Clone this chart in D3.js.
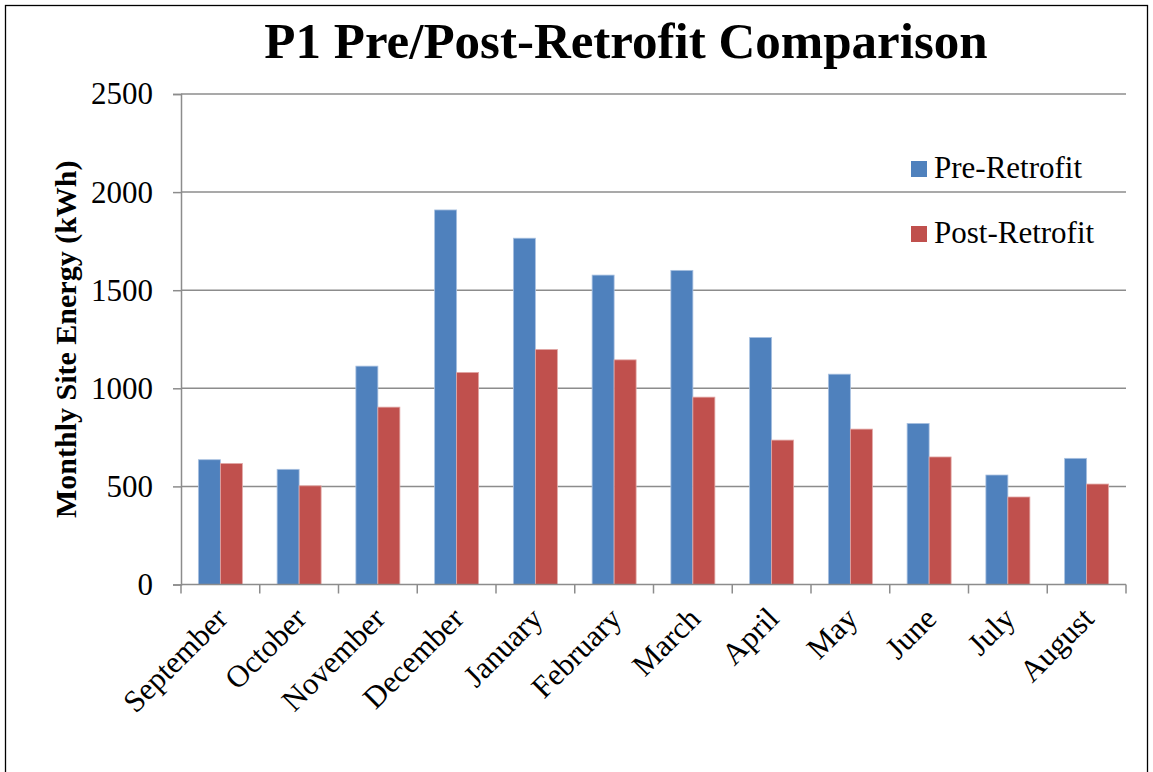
<!DOCTYPE html>
<html lang="en">
<head>
<meta charset="UTF-8">
<title>P1 Pre/Post-Retrofit Comparison</title>
<script src="https://d3js.org/d3.v7.min.js"></script>
<style>
  body { margin: 0; background: #fff; }
  text { font-family: "Liberation Serif", "DejaVu Serif", serif; }
</style>
</head>
<body>
<div id="chart"></div>
<script>
// months and values
const months = ["September", "October", "November", "December", "January", "February",
                "March", "April", "May", "June", "July", "August"];
const preRetrofit  = [636, 587, 1113, 1909, 1765, 1577, 1601, 1259, 1072, 821, 558, 643];
const postRetrofit = [617, 503, 904, 1081, 1198, 1145, 955, 736, 792, 650, 446, 512];
const seriesNames = ["Pre-Retrofit", "Post-Retrofit"];
const seriesColors = ["#4F81BD", "#C0504D"];
const yTicks = [0, 500, 1000, 1500, 2000, 2500];

const W = 1153, H = 772;
const plot = {left: 181, right: 1126, top: 94, bottom: 584.5};

const svg = d3.select("#chart").append("svg")
    .attr("width", W).attr("height", H);

// outer frame
svg.append("rect")
    .attr("x", 5.5).attr("y", 5.5)
    .attr("width", 1142).attr("height", 800)
    .attr("fill", "none").attr("stroke", "#000").attr("stroke-width", 1.3);

const x0 = d3.scaleBand().domain(months).range([plot.left, plot.right]).padding(0);
const x1 = d3.scaleBand().domain(seriesNames).range([0, x0.bandwidth()]).paddingOuter(0.79).paddingInner(0);
const y = d3.scaleLinear().domain([0, 2500]).range([plot.bottom, plot.top]);

// gridlines
svg.append("g").selectAll("line")
    .data(yTicks.filter(d => d > 0))
    .join("line")
    .attr("x1", plot.left).attr("x2", plot.right)
    .attr("y1", d => y(d)).attr("y2", d => y(d))
    .attr("stroke", "#8c8c8c").attr("stroke-width", 1.5);

// bars
const rows = months.map((m, i) => ({month: m, values: [preRetrofit[i], postRetrofit[i]]}));
const groups = svg.append("g").selectAll("g")
    .data(rows).join("g")
    .attr("transform", d => `translate(${x0(d.month)},0)`);

groups.selectAll("rect")
    .data(d => d.values.map((v, k) => ({name: seriesNames[k], value: v, k: k})))
    .join("rect")
    .attr("x", d => x1(d.name))
    .attr("y", d => y(d.value))
    .attr("width", x1.bandwidth())
    .attr("height", d => y(0) - y(d.value))
    .attr("fill", d => seriesColors[d.k])
    .attr("stroke", d => d.k === 0 ? "#a9c1e0" : "#e2a8a6")
    .attr("stroke-width", 0.8);

// y axis
const yAxis = svg.append("g")
    .attr("transform", `translate(${plot.left},0)`)
    .call(d3.axisLeft(y).tickValues(yTicks).tickFormat(d3.format("d")).tickSize(8).tickPadding(20));
yAxis.select(".domain").attr("stroke", "#8c8c8c").attr("stroke-width", 1.5);
yAxis.selectAll(".tick line").attr("stroke", "#8c8c8c").attr("stroke-width", 1.5);
yAxis.selectAll(".tick text")
    .attr("font-family", "Liberation Serif").attr("font-size", 31).attr("fill", "#000");

// x axis line and ticks at category boundaries
const xAxis = svg.append("g").attr("transform", `translate(0,${plot.bottom})`);
xAxis.append("line")
    .attr("x1", plot.left).attr("x2", plot.right)
    .attr("stroke", "#8c8c8c").attr("stroke-width", 1.5);
xAxis.selectAll("line.tk")
    .data(months.map(m => x0(m)).concat([x0.range()[1]]))
    .join("line").attr("class", "tk")
    .attr("x1", d => d).attr("x2", d => d)
    .attr("y1", 0).attr("y2", 9)
    .attr("stroke", "#8c8c8c").attr("stroke-width", 1.5);

xAxis.selectAll("text.lbl")
    .data(months)
    .join("text").attr("class", "lbl")
    .attr("transform", d => `translate(${x0(d) + x0.bandwidth() / 2 + 9},${36}) rotate(-45)`)
    .attr("text-anchor", "end")
    .attr("font-size", 31)
    .text(d => d);

// y title
svg.append("text")
    .attr("transform", `translate(76,${(plot.top + plot.bottom) / 2}) rotate(-90)`)
    .attr("text-anchor", "middle")
    .attr("font-size", 30).attr("font-weight", "bold")
    .text("Monthly Site Energy (kWh)");

// title
svg.append("text")
    .attr("x", 626).attr("y", 58)
    .attr("text-anchor", "middle")
    .attr("font-size", 51).attr("font-weight", "bold")
    .text("P1 Pre/Post-Retrofit Comparison");

// legend
const legend = svg.append("g").selectAll("g")
    .data(seriesNames).join("g")
    .attr("transform", (d, i) => `translate(911,${161 + i * 65})`);
legend.append("rect")
    .attr("width", 16).attr("height", 16)
    .attr("fill", (d, i) => seriesColors[i]);
legend.append("text")
    .attr("x", 23).attr("y", 17)
    .attr("font-size", 31)
    .text(d => d);
</script>
</body>
</html>
